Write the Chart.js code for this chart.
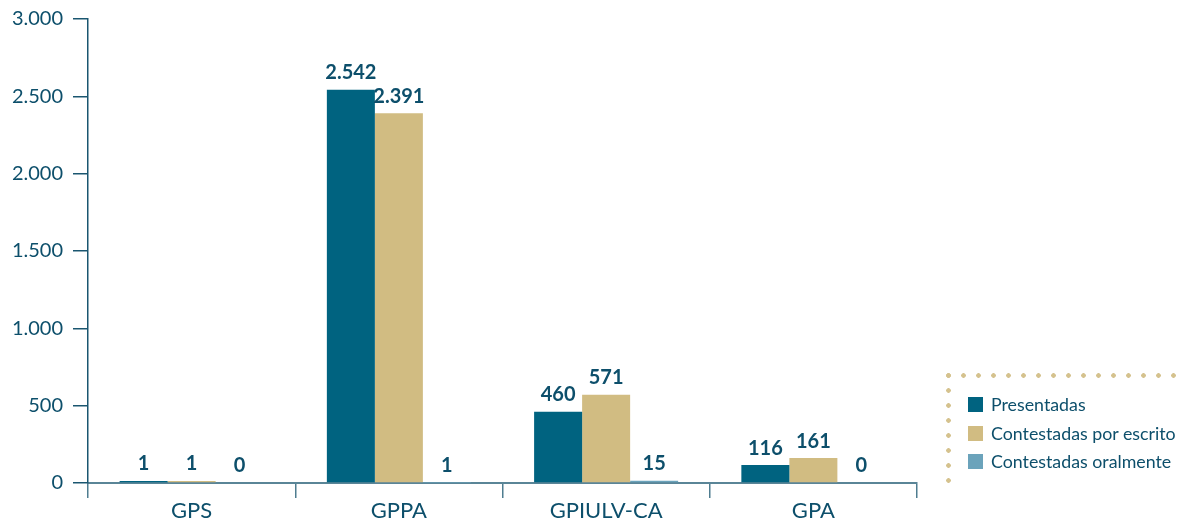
<!DOCTYPE html>
<html><head><meta charset="utf-8">
<script src="https://cdn.jsdelivr.net/npm/chart.js@4.4.0/dist/chart.umd.min.js"></script>
<style>
html,body{margin:0;padding:0;background:#fff;}
#wrap{position:relative;width:1177px;height:518px;overflow:hidden;}
#c{position:absolute;left:0;top:0;}
.dots-h{position:absolute;left:946px;top:373px;width:231px;height:5px;
 background:radial-gradient(circle at 2.5px 2.5px,#d5c28e 2px,rgba(255,255,255,0) 2.6px) repeat-x;background-size:15px 5px;}
.dots-v{position:absolute;left:946px;top:373px;width:5px;height:114px;
 background:radial-gradient(circle at 2.5px 2.5px,#d5c28e 2px,rgba(255,255,255,0) 2.6px) repeat-y;background-size:5px 15px;}
#legend{position:absolute;left:968px;top:393px;font-family:Lato,sans-serif;font-size:17.8px;color:#0d4f6b;}
#legend .it{position:relative;height:28.5px;line-height:22px;padding-left:23px;white-space:nowrap;}
#legend .sw{position:absolute;left:0;top:4px;width:15px;height:15px;}
</style></head>
<body><div id="wrap"><canvas id="c" width="1177" height="518"></canvas>
<div class="dots-h"></div><div class="dots-v"></div><div id="legend"></div></div>
<script>
const categories = ['GPS', 'GPPA', 'GPIULV-CA', 'GPA'];
const seriesNames = ['Presentadas', 'Contestadas por escrito', 'Contestadas oralmente'];
const presentadas = [1, 2542, 460, 116];
const contestadasEscrito = [1, 2391, 571, 161];
const contestadasOral = [0, 1, 15, 0];
const yTicks = [0, 500, 1000, 1500, 2000, 2500, 3000];
const colors = ['#006380', '#d1bc82', '#6ba3bb'];

const fmt = v => String(v).replace(/\B(?=(\d{3})+(?!\d))/g, '.');
const textColor = '#0d4f6b';

const valueLabels = {
  id: 'valueLabels',
  afterDatasetsDraw(chart) {
    const ctx = chart.ctx;
    ctx.save();
    ctx.font = 'bold 20px Lato, sans-serif';
    ctx.fillStyle = textColor;
    ctx.textAlign = 'center';
    ctx.textBaseline = 'bottom';
    chart.data.datasets.forEach((ds, i) => {
      chart.getDatasetMeta(i).data.forEach((bar, j) => {
        ctx.fillText(fmt(ds.data[j]), bar.x, bar.y - 7);
      });
    });
    ctx.restore();
  }
};

const legendEl = document.getElementById('legend');
seriesNames.forEach((n, i) => {
  const d = document.createElement('div'); d.className = 'it';
  d.innerHTML = '<span class="sw" style="background:' + colors[i] + '"></span>' + n;
  legendEl.appendChild(d);
});

new Chart(document.getElementById('c'), {
  type: 'bar',
  data: {
    labels: categories,
    datasets: [presentadas, contestadasEscrito, contestadasOral].map((d, i) => ({
      label: seriesNames[i], data: d, backgroundColor: colors[i],
      categoryPercentage: 0.695, barPercentage: 1.0,
      minBarLength: i < 2 ? 2 : 0
    }))
  },
  options: {
    responsive: false, animation: false,
    layout: { padding: { top: 19, right: 260, left: 0, bottom: 0 } },
    plugins: { legend: { display: false }, tooltip: { enabled: false } },
    scales: {
      x: {
        grid: { display: true, drawOnChartArea: false, drawTicks: true, tickLength: 15, color: '#4f7d90', lineWidth: 1.5, offset: true },
        border: { display: true, color: '#5a8597', width: 2 },
        ticks: { color: textColor, font: { family: 'Lato, sans-serif', size: 22 }, padding: 0 },
        afterFit(s) { s.height = 35; s.paddingLeft = 0; s.paddingRight = 0; }
      },
      y: {
        min: 0, max: 3000,
        afterBuildTicks(s) { s.ticks = yTicks.map(v => ({ value: v })); },
        grid: { display: true, drawOnChartArea: false, drawTicks: true, tickLength: 15, color: '#1a5670', lineWidth: 1.5 },
        border: { display: true, color: '#1a5670', width: 1.5 },
        ticks: { color: textColor, font: { family: 'Lato, sans-serif', size: 20 }, padding: 10, callback: v => fmt(v) },
        afterFit(s) { s.width = 88; s.paddingTop = 0; s.paddingBottom = 0; }
      }
    }
  },
  plugins: [valueLabels]
});
</script></body></html>
